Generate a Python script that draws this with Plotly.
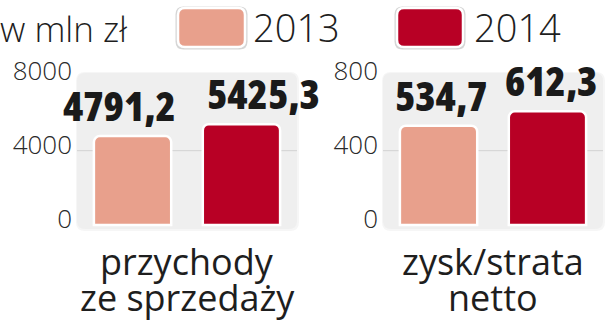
import plotly.graph_objects as go

W, H = 615, 334

years = ["2013", "2014"]
colors = ["#e8a08c", "#b80025"]
cat_left = ["przychody", "ze sprzedaży"]
cat_right = ["zysk/strata", "netto"]
revenue = [4791.2, 5425.3]
profit = [534.7, 612.3]
revenue_labels = ["4791,2", "5425,3"]
profit_labels = ["534,7", "612,3"]
left_ticks = [0, 4000, 8000]
right_ticks = [0, 400, 800]
unit_label = "w mln zł"

LIGHT = "Open Sans"
TXT = "#1e1e1e"

def px_x(p):
    return p / W

def px_y(p):
    return (H - p) / H

def rrect(x0, y0, x1, y1, r):
    X = px_x
    Y = px_y
    return (f"M {X(x0+r)},{Y(y0)} L {X(x1-r)},{Y(y0)} Q {X(x1)},{Y(y0)} {X(x1)},{Y(y0+r)} "
            f"L {X(x1)},{Y(y1-r)} Q {X(x1)},{Y(y1)} {X(x1-r)},{Y(y1)} "
            f"L {X(x0+r)},{Y(y1)} Q {X(x0)},{Y(y1)} {X(x0)},{Y(y1-r)} "
            f"L {X(x0)},{Y(y0+r)} Q {X(x0)},{Y(y0)} {X(x0+r)},{Y(y0)} Z")

panels = [
    dict(cat=cat_left, vals=revenue, labels=revenue_labels, ticks=left_ticks,
         xa="x", ya="y", xdom=[77, 297], shifts=[-68, 76]),
    dict(cat=cat_right, vals=profit, labels=profit_labels, ticks=right_ticks,
         xa="x2", ya="y2", xdom=[383, 603], shifts=[-52, 58]),
]

fig = go.Figure()
annotations = []
shapes = []

for p in panels:
    cat_name = " ".join(p["cat"])
    x0, x1 = p["xdom"]
    shapes.append(dict(type="path", xref="paper", yref="paper",
                       path=rrect(x0 - 1, 72, x1 + 2, 231, 9),
                       fillcolor="#f6f6f6", line=dict(width=0), layer="below"))
    shapes.append(dict(type="path", xref="paper", yref="paper",
                       path=rrect(x0, 73, x1, 229, 8),
                       fillcolor="#efefef", line=dict(width=0), layer="below"))
    axn = p["ya"].replace("y", "")
    shapes.append(dict(type="line", xref=f"x{axn} domain", yref=p["ya"],
                       x0=0, x1=1, y0=p["ticks"][1], y1=p["ticks"][1],
                       line=dict(color="#d2d2d2", width=1), layer="below"))
    for i, yr in enumerate(years):
        fig.add_trace(go.Bar(
            x=[cat_name], y=[p["vals"][i]], name=yr, xaxis=p["xa"], yaxis=p["ya"],
            marker=dict(color=colors[i], line=dict(color="white", width=2.5)),
            showlegend=False, hoverinfo="skip",
        ))
        annotations.append(dict(
            text=f'<span style="font-stretch:condensed">{p["labels"][i]}</span>',
            x=cat_name, y=p["vals"][i], xref=p["xa"], yref=p["ya"],
            xanchor="center", yanchor="bottom", xshift=p["shifts"][i], yshift=1,
            showarrow=False,
            font=dict(family="Open Sans", size=41, weight=800, color="#1a1a1a")))
    for j, line in enumerate(p["cat"]):
        annotations.append(dict(
            text=line, x=0.5, y=px_y(261 + 36 * j), xref=f"x{axn} domain", yref="paper",
            xanchor="center", yanchor="middle", showarrow=False,
            font=dict(family=LIGHT, size=36, weight=400, color=TXT)))

# legend swatches
sw = [(178, 8, 245, 47), (397, 8, 463, 47)]
for (x0, y0, x1, y1), c in zip(sw, colors):
    shapes.append(dict(type="path", xref="paper", yref="paper",
                       path=rrect(x0 - 2.5, y0 - 1.5, x1 + 2.5, y1 + 2.5, 8),
                       fillcolor="#d6d6d6", line=dict(width=0), layer="above"))
    shapes.append(dict(type="path", xref="paper", yref="paper",
                       path=rrect(x0, y0, x1, y1, 7),
                       fillcolor=c, line=dict(color="white", width=2.5), layer="above"))

annotations += [
    dict(text=unit_label, x=-0.003, y=px_y(28), xref="paper", yref="paper",
         xanchor="left", yanchor="middle", showarrow=False,
         font=dict(family=LIGHT, size=35, color=TXT, weight=300)),
    dict(text=years[0], x=px_x(251), y=px_y(26.5), xref="paper", yref="paper",
         xanchor="left", yanchor="middle", showarrow=False,
         font=dict(family=LIGHT, size=38, color=TXT, weight=300)),
    dict(text=years[1], x=px_x(472), y=px_y(26.5), xref="paper", yref="paper",
         xanchor="left", yanchor="middle", showarrow=False,
         font=dict(family=LIGHT, size=38, color=TXT, weight=300)),
]

ydom = [px_y(228), px_y(73)]
tickfont = dict(family=LIGHT, size=26, color="#2a2a2a", weight=300)

fig.update_layout(
    template="none",
    width=W, height=H,
    margin=dict(l=0, r=0, t=0, b=0, autoexpand=False),
    paper_bgcolor="white",
    plot_bgcolor="rgba(0,0,0,0)",
    barmode="group",
    bargap=0.01,
    bargroupgap=0.29,
    barcornerradius=6,
    showlegend=False,
    shapes=shapes,
    annotations=annotations,
    xaxis=dict(domain=[px_x(77), px_x(297)], anchor="y", range=[-0.5, 0.5], automargin=False,
               showgrid=False, showticklabels=False, ticks="", showline=False, zeroline=False),
    xaxis2=dict(domain=[px_x(383), px_x(603)], anchor="y2", range=[-0.5, 0.5], automargin=False,
                showgrid=False, showticklabels=False, ticks="", showline=False, zeroline=False),
    yaxis=dict(domain=ydom, range=[-161, 8183], anchor="x", tickvals=left_ticks, automargin=False,
               ticktext=[str(v) for v in left_ticks], showgrid=False, zeroline=False, showline=False,
               tickfont=tickfont, ticks="", ticklabelstandoff=4, ticklabelshift=-6),
    yaxis2=dict(domain=ydom, range=[-16.1, 818.3], anchor="x2", tickvals=right_ticks, automargin=False,
                ticktext=[str(v) for v in right_ticks], showgrid=False, zeroline=False, showline=False,
                tickfont=tickfont, ticks="", ticklabelstandoff=4, ticklabelshift=-6),
)

fig.write_html("out.html")
